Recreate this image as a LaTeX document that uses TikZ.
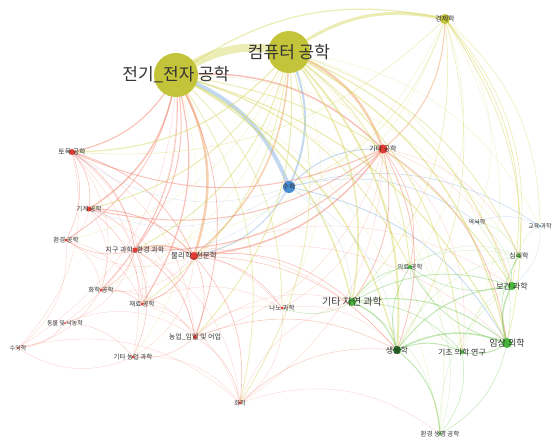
\documentclass[tikz,border=0pt]{standalone}
\usepackage{fontspec}
\setmainfont{Noto Sans CJK KR}
\usetikzlibrary{backgrounds}
\definecolor{ylw}{RGB}{212,212,90}
\definecolor{red}{RGB}{240,120,100}
\definecolor{orng}{RGB}{235,150,80}
\definecolor{blu}{RGB}{120,170,225}
\definecolor{grn}{RGB}{120,200,90}
\definecolor{nylw}{RGB}{196,196,58}
\definecolor{nred}{RGB}{228,60,50}
\definecolor{nblu}{RGB}{70,140,210}
\definecolor{ngrn}{RGB}{70,180,60}
\definecolor{ndgrn}{RGB}{30,120,30}
\newcommand{\lblsize}[1]{\fontsize{#1}{#1}\selectfont}

\begin{document}
\begin{tikzpicture}[x=1pt,y=-1pt,
    dot/.style={circle,inner sep=0pt,draw=none},
    lbl/.style={text=black!80,inner sep=0pt},
    edge/.style={draw opacity=0.45,line cap=round},
    faint/.style={draw opacity=0.28,line cap=round,line width=0.45pt}]
  \useasboundingbox (0,0) rectangle (555,444);

  %field nodes
  \foreach \n/\x/\y/\d/\c in {
      ee/176/75/44/nylw, cs/289/52/42/nylw, econ/445/19/10/nylw,
      oeng/383/149/9/nred, math/289/187/12/nblu,
      civil/72/152/6/nred, mech/89/209/5/nred, enve/66/240/3/nred,
      earth/135/250/5/nred, phys/194/256/8/nred, cheme/101/290/3/nred,
      mate/142/304/3/nred, animal/65/323/2/nred, vet/18/348/2/nred,
      oagri/133/357/3/nred, agri/195/337/4/nred, chem/240/403/3/nred,
      nano/282/308/3/nred,
      onat/352/302/8/ngrn, medeng/410/267/4/ngrn, bio/397/350/8/ndgrn,
      basic/462/352/4/ngrn, clin/507/343/10/ngrn, health/512/286/8/ngrn,
      psych/519/256/4/ngrn, hist/477/222/2/nblu, edu/540/226/2/nblu,
      envbio/440/434/3/ngrn} {
    \node[dot,fill=\c,minimum size=\d pt] (\n) at (\x,\y) {};
  }

  %labels, centred on the nodes
  \foreach \n/\s/\t in {
      ee/17/전기\_전자 공학, cs/17/컴퓨터 공학, econ/7/경제학,
      oeng/7/기타 공학, math/7/수학, civil/7/토목 공학,
      mech/6.5/기계 공학, enve/6.5/환경 공학, earth/7/지구 과학\_환경 과학,
      phys/7.5/물리학\_천문학, cheme/6.5/화학 공학, mate/6.5/재료 공학,
      animal/6/동물 및 낙농학, vet/6/수의학, oagri/6.5/기타 농업 과학,
      agri/7/농업\_임업 및 어업, chem/6/화학, nano/6.5/나노 과학,
      onat/10/기타 자연 과학, medeng/6.5/의료 공학, bio/8/생물학,
      basic/8/기초 의학 연구, clin/9/임상 의학, health/8/보건 과학,
      psych/7/심리학, hist/6/역사학, edu/6/교육 과학,
      envbio/6.5/환경 생명 공학} {
    \node[lbl,font=\lblsize{\s}] (\n-l) at (\n) {\t};
  }

  \begin{pgfonlayer}{background}
  %strong co-occurrence links
  \foreach \a/\b/\w/\c in {
      ee/cs/8/ylw, cs/econ/3/ylw, ee/econ/1.2/ylw,
      ee/math/4/blu, cs/math/2/blu, math/oeng/1/blu, math/clin/0.8/blu,
      math/hist/0.5/blu, math/edu/0.5/blu, math/phys/1/blu,
      cs/oeng/2.5/orng, ee/oeng/1.5/red, ee/phys/2.5/orng, cs/phys/1.5/orng,
      ee/civil/1.2/red, ee/mech/1.5/red, ee/earth/1/red, ee/enve/0.8/red,
      ee/cheme/0.8/red, ee/mate/1.2/red, ee/agri/0.8/red,
      ee/bio/1.5/ylw, ee/onat/1.5/ylw, ee/clin/1.2/ylw, ee/health/1/ylw,
      ee/medeng/1/ylw, ee/chem/0.8/ylw, ee/nano/0.8/ylw,
      cs/bio/2/ylw, cs/onat/1.5/ylw, cs/clin/1.5/ylw, cs/health/1.2/ylw,
      cs/basic/1/ylw, cs/medeng/1/ylw, cs/psych/0.8/ylw, cs/civil/1.2/ylw,
      cs/mech/1/ylw, cs/earth/1/ylw, cs/agri/1/ylw, cs/mate/0.8/ylw,
      cs/chem/0.8/ylw,
      econ/clin/0.8/ylw, econ/health/0.8/ylw, econ/psych/0.6/ylw,
      econ/bio/0.6/ylw, econ/onat/0.6/ylw, econ/oeng/1/orng,
      econ/edu/0.5/ylw, econ/math/0.5/ylw, econ/civil/0.5/ylw,
      oeng/phys/1.5/red, oeng/civil/1/red, oeng/mech/1/red, oeng/earth/1/red,
      oeng/bio/0.8/red, oeng/onat/0.8/red, oeng/clin/0.8/red,
      oeng/medeng/0.6/red,
      civil/mech/0.6/red, civil/earth/0.8/red, civil/enve/0.5/red,
      civil/phys/0.8/red, mech/phys/1/red, mech/mate/0.5/red,
      earth/phys/1.5/red, earth/enve/0.6/red, earth/agri/0.6/red,
      earth/cheme/0.5/red, earth/oagri/0.5/red,
      phys/mate/0.8/red, phys/chem/0.6/red, phys/agri/0.6/red,
      phys/nano/0.6/red, phys/onat/0.6/red, phys/bio/0.5/red,
      cheme/mate/0.5/red, cheme/vet/0.3/red, animal/vet/0.3/red,
      animal/oagri/0.3/red, agri/oagri/0.4/red, agri/bio/0.5/red,
      agri/chem/0.4/red, chem/bio/0.4/red,
      onat/bio/1.2/grn, onat/clin/1/grn, onat/health/0.8/grn,
      onat/basic/0.6/grn, onat/medeng/0.6/grn, onat/nano/0.5/grn,
      bio/clin/1.5/grn, bio/basic/1/grn, bio/health/1/grn, bio/envbio/1/grn,
      bio/medeng/0.8/grn, clin/health/1.5/grn, clin/basic/1/grn,
      clin/psych/0.6/grn, clin/medeng/0.8/grn, health/psych/0.6/grn,
      health/medeng/0.6/grn, basic/envbio/0.5/grn, clin/envbio/0.5/grn,
      hist/edu/0.3/blu, hist/clin/0.3/grn} {
    \draw[edge,draw=\c,line width=\w pt] (\a.center) to[bend left=24] (\b.center);
  }
  %faint links
  \foreach \a/\b/\c in {
      civil/cheme/red, civil/mate/red, civil/agri/red, civil/oagri/red,
      mech/earth/red, mech/enve/red, mech/cheme/red, mech/agri/red,
      enve/cheme/red, enve/mate/red, enve/vet/red, earth/mate/red,
      earth/chem/red, earth/bio/red, earth/nano/red, earth/animal/red,
      phys/cheme/red, phys/enve/red, phys/oagri/red, phys/clin/red,
      phys/health/red, mate/agri/red, mate/nano/red, mate/chem/red,
      cheme/agri/red, oagri/vet/red, oagri/chem/red, agri/nano/red,
      agri/onat/red, nano/bio/red, nano/chem/red, chem/onat/red,
      chem/envbio/red, vet/chem/red, animal/agri/red, civil/vet/red,
      onat/psych/grn, onat/envbio/grn, bio/psych/grn, basic/health/grn,
      basic/medeng/grn, medeng/psych/grn, psych/edu/grn, hist/psych/grn,
      hist/health/grn, edu/health/blu, envbio/health/grn, medeng/envbio/grn,
      oeng/health/red, oeng/psych/red, oeng/nano/red, oeng/agri/red,
      oeng/chem/red, oeng/basic/red, math/bio/blu, math/onat/blu,
      math/civil/blu, math/mech/blu, math/earth/blu, econ/basic/ylw,
      econ/medeng/ylw, econ/hist/ylw, econ/phys/ylw, econ/earth/ylw,
      cs/nano/ylw, cs/enve/ylw, cs/cheme/ylw, cs/envbio/ylw, cs/hist/ylw,
      cs/edu/ylw, ee/basic/ylw, ee/psych/ylw, ee/oagri/ylw, ee/animal/red,
      ee/vet/red, ee/envbio/ylw} {
    \draw[faint,draw=\c] (\a.center) to[bend left=28] (\b.center);
  }
  \end{pgfonlayer}
\end{tikzpicture}
\end{document}
